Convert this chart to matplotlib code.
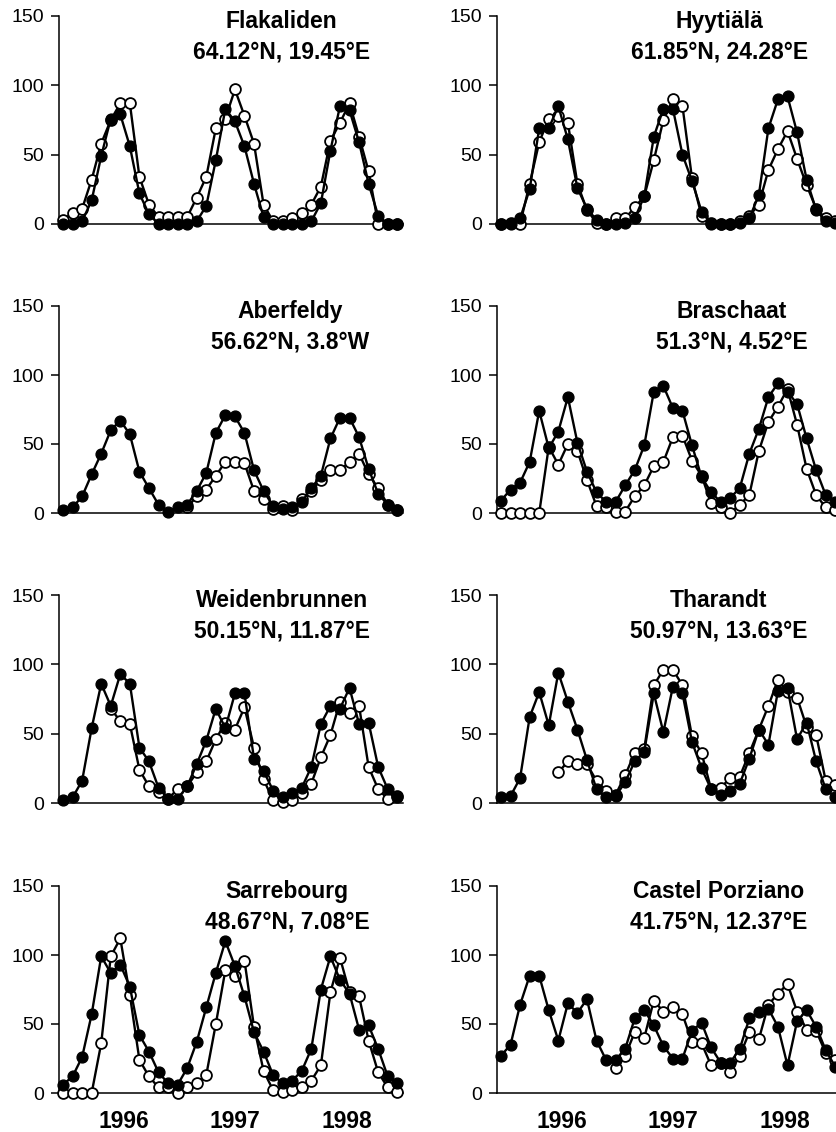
import numpy as np
import matplotlib
matplotlib.use("Agg")
import matplotlib.pyplot as plt

plt.rcParams['font.family'] = ['Liberation Sans', 'DejaVu Sans']

# 36 monthly values, Jan 1996 .. Dec 1998 ; None = no data
sites = ["Flakaliden", "Hyytiälä", "Aberfeldy", "Braschaat",
         "Weidenbrunnen", "Tharandt", "Sarrebourg", "Castel Porziano"]
coords = ["64.12°N, 19.45°E", "61.85°N, 24.28°E", "56.62°N, 3.8°W", "51.3°N, 4.52°E",
          "50.15°N, 11.87°E", "50.97°N, 13.63°E", "48.67°N, 7.08°E", "41.75°N, 12.37°E"]

N = None

flakaliden_filled = [0, 0, 2, 17, 49, 76, 79, 56, 22, 7, 0, 0, 0, 0, 2, 13, 46, 83,
                     74, 56, 29, 5, 0, 0, 0, 0, 2, 15, 53, 85, 82, 59, 29, 6, 0, 0]
flakaliden_open = [3, 8, 11, 32, 58, 75, 87, 87, 34, 14, 5, 5, 5, 5, 19, 34, 69, 76,
                   97, 78, 58, 14, 2, 2, 4, 8, 14, 27, 60, 73, 87, 63, 38, 0, 0, 0]

hyytiala_filled = [0, 0, 4, 25, 69, 69, 85, 61, 26, 11, 3, 0, 0, 1, 4, 20, 63, 83,
                   83, 50, 31, 9, 0, 0, 0, 1, 4, 21, 69, 90, 92, 66, 32, 10, 2, 1]
hyytiala_open = [0, 1, 0, 29, 59, 76, 78, 73, 29, 10, 1, 0, 4, 4, 12, 20, 46, 75,
                 90, 85, 33, 6, 1, 0, 0, 2, 6, 14, 39, 54, 67, 47, 28, 11, 4, 2]

aberfeldy_filled = [2, 4, 12, 28, 43, 60, 67, 57, 30, 18, 6, 1, 4, 6, 16, 29, 58, 71,
                    70, 58, 31, 16, 5, 3, 4, 8, 18, 27, 54, 69, 69, 55, 32, 14, 6, 2]
aberfeldy_open = [N, N, N, N, N, N, N, N, N, N, N, N, N, 4, 12, 17, 27, 37,
                  37, 36, 16, 10, 3, 5, 2, 10, 16, 24, 31, 31, 37, 43, 28, 18, 6, 2]

braschaat_filled = [9, 17, 22, 37, 74, 47, 59, 84, 51, 30, 15, 8, 8, 20, 31, 49, 88, 92,
                    76, 74, 49, 26, 15, 8, 11, 18, 43, 61, 84, 94, 88, 79, 54, 31, 13, 8]
braschaat_open = [0, 0, 0, 0, 0, 48, 35, 50, 45, 24, 5, 4, 1, 1, 12, 20, 34, 37,
                  55, 56, 38, 27, 7, 4, 0, 6, 13, 45, 66, 77, 90, 64, 32, 13, 4, 2]

weiden_filled = [2, 4, 16, 54, 86, 70, 93, 86, 40, 30, 11, 3, 3, 12, 28, 45, 68, 54,
                 79, 79, 32, 23, 9, 4, 7, 11, 26, 57, 70, 68, 83, 57, 58, 26, 10, 4]
weiden_open = [N, N, N, N, N, 68, 59, 57, 24, 12, 8, 3, 10, 12, 22, 30, 46, 58,
               53, 69, 40, 17, 2, 1, 2, 7, 14, 33, 49, 73, 65, 70, 26, 10, 3, 5]

tharandt_filled = [4, 5, 18, 62, 80, 56, 94, 73, 53, 31, 10, 4, 5, 15, 30, 37, 79, 51,
                   84, 79, 44, 25, 10, 6, 9, 14, 32, 53, 42, 81, 83, 46, 58, 30, 10, 4]
tharandt_open = [N, N, N, N, N, N, 22, 30, 28, 28, 16, 9, 6, 20, 36, 39, 85, 96,
                 96, 85, 48, 36, 10, 11, 18, 19, 36, 53, 70, 89, 80, 76, 55, 49, 16, 13]

sarre_filled = [6, 12, 26, 57, 99, 87, 93, 77, 42, 30, 15, 7, 6, 18, 37, 62, 87, 110,
                92, 70, 44, 30, 13, 7, 9, 16, 32, 75, 99, 82, 72, 46, 49, 32, 12, 7]
sarre_open = [0, 0, 0, 0, 36, 99, 112, 71, 24, 12, 4, 4, 0, 4, 7, 13, 50, 89,
              85, 96, 48, 16, 2, 1, 2, 4, 9, 20, 73, 98, 73, 70, 38, 15, 4, 1]

castel_filled = [27, 35, 64, 85, 85, 60, 38, 65, 58, 68, 38, 24, 24, 32, 54, 60, 49, 34,
                 25, 25, 45, 51, 33, 22, 22, 32, 54, 59, 61, 48, 20, 52, 60, 48, 31, 19]
castel_open = [N, N, N, N, N, N, N, N, N, N, N, N, 18, 27, 44, 40, 67, 59,
               62, 57, 37, 36, 20, 22, 15, 27, 44, 39, 64, 72, 79, 59, 46, 45, 29, 24]

filled = [flakaliden_filled, hyytiala_filled, aberfeldy_filled, braschaat_filled,
          weiden_filled, tharandt_filled, sarre_filled, castel_filled]
opened = [flakaliden_open, hyytiala_open, aberfeldy_open, braschaat_open,
          weiden_open, tharandt_open, sarre_open, castel_open]

year_labels = ["1996", "1997", "1998"]
year_pos = [6.4, 18.0, 29.7]
yticks = [0, 50, 100, 150]

W, H = 837, 1132
fig = plt.figure(figsize=(W / 100, H / 100), dpi=100)

# panel boxes in pixels (left, top of the 150 tick, bottom at 0)
col_left = [59, 497]
row_top = [16, 306, 595, 886]
row_bot = [224, 513, 803, 1093]
aw = 344

months = np.arange(36)

for k in range(8):
    r, c = divmod(k, 2)
    l = col_left[c] / W
    b = 1 - row_bot[r] / H
    h = (row_bot[r] - row_top[r]) / H
    ax = fig.add_axes([l, b, aw / W, h])

    yo = np.array([np.nan if v is None else v for v in opened[k]], dtype=float)
    yf = np.array(filled[k], dtype=float)
    ax.plot(months, yo, '-o', color='black', lw=1.7, ms=7.8, mfc='white',
            mec='black', mew=1.3, clip_on=False, zorder=3)
    ax.plot(months, yf, '-o', color='black', lw=1.7, ms=7.8, mfc='black',
            mec='black', mew=1.0, clip_on=False, zorder=4)

    ax.set_xlim(-0.42, 35.6)
    ax.set_ylim(0, 150)
    ax.set_yticks(yticks)
    ax.spines['top'].set_visible(False)
    ax.spines['right'].set_visible(False)
    ax.spines['left'].set_linewidth(1.1)
    ax.spines['bottom'].set_linewidth(1.1)
    ax.tick_params(axis='y', direction='out', length=6, width=1.1, pad=5,
                   labelsize=14)
    if r == 3:
        ax.set_xticks(year_pos)
        ax.set_xticklabels(year_labels, fontsize=16.5, fontweight='bold')
        ax.tick_params(axis='x', length=0, pad=12)
    else:
        ax.set_xticks([])

    ax.text(0.903, 0.9, sites[k] + "\n" + coords[k], transform=ax.transAxes,
            ha='right', va='center', multialignment='center',
            fontsize=16.5, fontweight='bold', linespacing=1.4)

fig.savefig("out.png", dpi=100)
